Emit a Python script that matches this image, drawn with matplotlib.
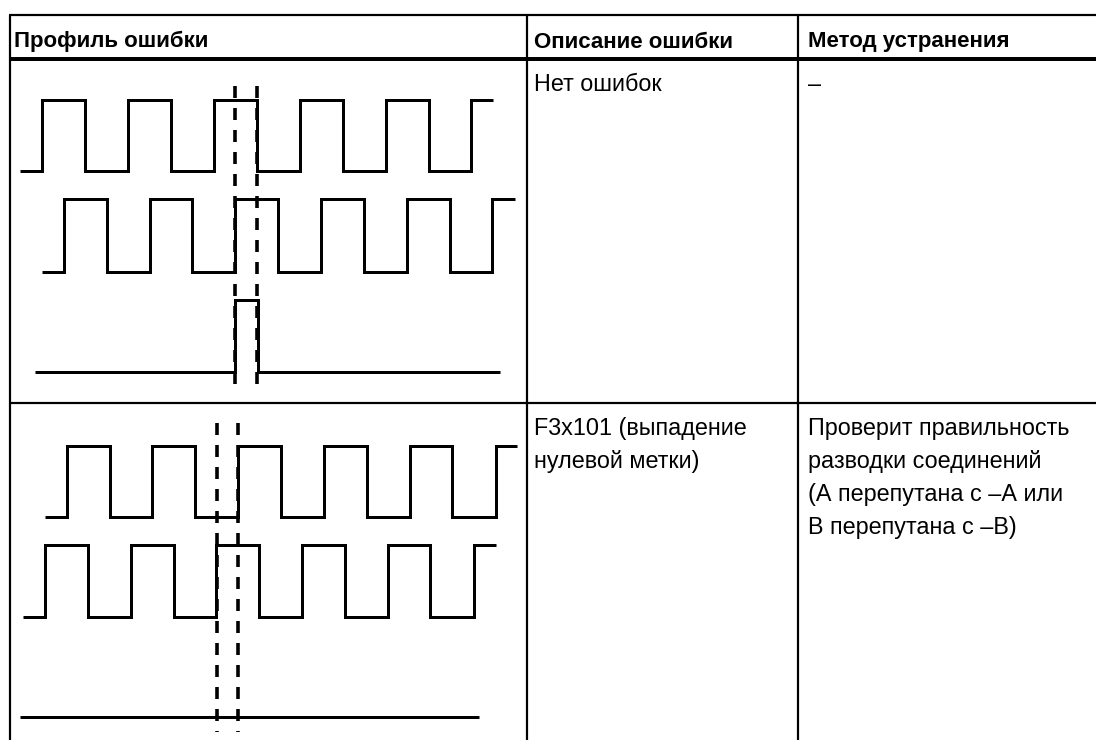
import matplotlib
matplotlib.use("Agg")
import matplotlib.pyplot as plt

plt.rcParams["lines.scale_dashes"] = False

# ---------------- data ----------------
headers = ["Профиль ошибки", "Описание ошибки", "Метод устранения"]
row1_desc = ["Нет ошибок"]
row1_fix = ["–"]
row2_desc = ["F3x101 (выпадение", "нулевой метки)"]
row2_fix = ["Проверит правильность", "разводки соединений",
            "(А перепутана с –А или", "В перепутана с –В)"]

# signal transitions (x positions of edges), start/end of trace; start level is low
r1_A_edges = [42.4, 85.1, 128.1, 170.8, 213.8, 257.2, 299.9, 343.0, 385.7, 428.7, 471.1]
r1_A_span = (20.0, 493.0)
r1_B_edges = [63.7, 106.7, 149.8, 192.1, 234.5, 277.9, 321.3, 364.0, 406.7, 449.7, 492.4]
r1_B_span = (42.0, 514.5)
r1_Z_edges = [234.8, 257.9]
r1_Z_span = (34.8, 500.3)
r1_marks = [234.8, 256.6]

r2_A_edges = [66.5, 109.5, 151.9, 194.9, 237.8, 280.6, 323.7, 366.7, 409.8, 452.1, 495.9]
r2_A_span = (44.8, 517.2)
r2_B_edges = [45.1, 88.2, 130.9, 173.6, 216.3, 259.0, 302.3, 345.4, 388.4, 430.4, 473.5]
r2_B_span = (23.4, 495.9)
r2_Z_edges = []
r2_Z_span = (20.0, 479.3)
r2_marks = [216.6, 238.2]

# ---------------- drawing ----------------
W, H = 1096, 740
DPI = 100
fig = plt.figure(figsize=(W / DPI, H / DPI), dpi=DPI)
ax = fig.add_axes([0, 0, 1, 1])
ax.set_xlim(0, W)
ax.set_ylim(H, 0)
ax.axis("off")

def px(v):
    return v * 72.0 / DPI

FONT = "Liberation Sans"
FS_HEAD = 16.0
FS_BODY = 16.8

# table grid
x_left, x_c1, x_c2 = 9.6, 526.5, 798.3
y_top, y_head, y_row = 15.0, 58.5, 403.0
kw = dict(color="black", solid_capstyle="butt")
ax.plot([x_left - 1, W], [y_top, y_top], lw=px(2.2), **kw)
ax.plot([x_left - 1, W], [y_head, y_head], lw=px(4.0), **kw)
ax.plot([x_left - 1, W], [y_row, y_row], lw=px(2.2), **kw)
for xv in (x_left, x_c1, x_c2):
    ax.plot([xv, xv], [y_top, H], lw=px(2.2), **kw)

# text
hx = [14.0, 534.0, 807.5]
for x, t in zip(hx, headers):
    ax.text(x, 47.5, t, fontsize=FS_HEAD, fontweight="bold", family=FONT,
            ha="left", va="baseline", color="black")

def lines(x, y0, items, dy=33.0):
    for i, t in enumerate(items):
        ax.text(x, y0 + i * dy, t, fontsize=FS_BODY, family=FONT,
                ha="left", va="baseline", color="black")

lines(hx[1], 91.0, row1_desc)
lines(hx[2], 91.0, row1_fix)
lines(hx[1], 435.0, row2_desc)
lines(hx[2], 435.0, row2_fix)

# signals
def trace(edges, span, lo, hi):
    xs, ys = [span[0]], [lo]
    level = lo
    for e in edges:
        new = hi if level == lo else lo
        xs += [e, e]
        ys += [level, new]
        level = new
    xs.append(span[1])
    ys.append(level)
    ax.plot(xs, ys, color="black", lw=px(3.0), solid_joinstyle="miter",
            solid_capstyle="butt")

trace(r1_A_edges, r1_A_span, 170.7, 99.5)
trace(r1_B_edges, r1_B_span, 271.7, 199.3)
trace(r1_Z_edges, r1_Z_span, 371.7, 300.0)
trace(r2_A_edges, r2_A_span, 516.7, 445.5)
trace(r2_B_edges, r2_B_span, 616.7, 545.0)
trace(r2_Z_edges, r2_Z_span, 716.7, 640.0)

def marks(xs, y0, y1):
    for xv in xs:
        ax.plot([xv, xv], [y0, y1], color="black", lw=px(3.6),
                dashes=(px(12), px(10)), dash_capstyle="butt")

marks(r1_marks, 86.0, 387.0)
marks(r2_marks, 423.0, 732.0)

fig.savefig("out.png", dpi=DPI)
